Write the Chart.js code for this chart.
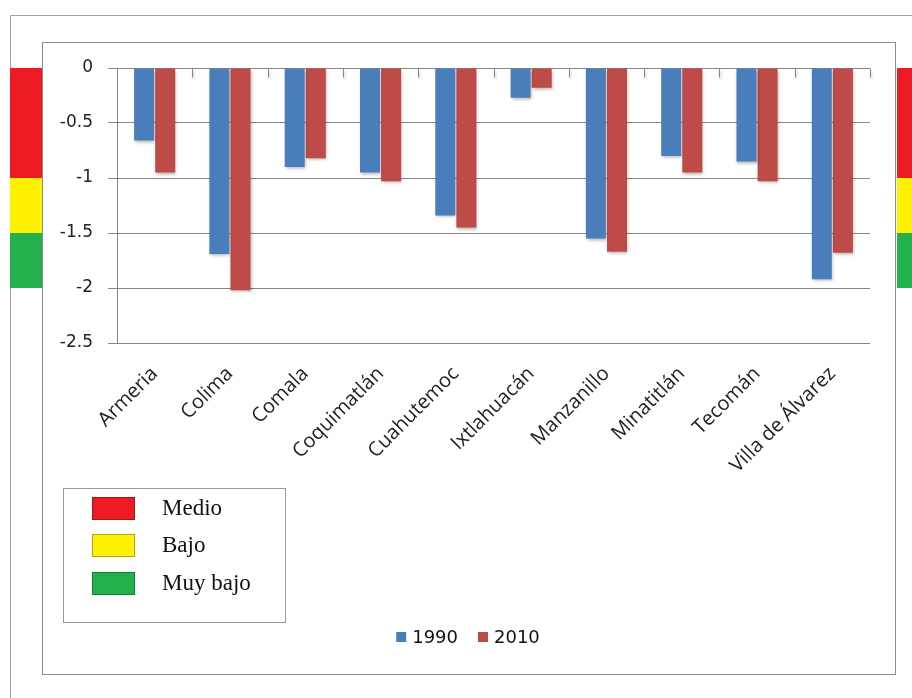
<!DOCTYPE html>
<html>
<head>
<meta charset="utf-8">
<script src="https://cdn.jsdelivr.net/npm/chart.js@4.4.1/dist/chart.umd.min.js"></script>
<style>
  html, body { margin: 0; padding: 0; background: #fff; }
  #wrap { width: 912px; height: 698px; position: relative; }
</style>
</head>
<body>
<div id="wrap"><canvas id="c" width="912" height="698"></canvas></div>
<script>
// Municipios del estado de Colima
const municipios = ['Armeria', 'Colima', 'Comala', 'Coquimatlán', 'Cuahutemoc',
  'Ixtlahuacán', 'Manzanillo', 'Minatitlán', 'Tecomán', 'Villa de Álvarez'];
const serie1990 = [-0.66, -1.69, -0.90, -0.95, -1.34, -0.27, -1.55, -0.80, -0.85, -1.92];
const serie2010 = [-0.95, -2.02, -0.82, -1.03, -1.45, -0.18, -1.67, -0.95, -1.03, -1.68];
const etiquetasSerie = ['1990', '2010'];
const yTicks = [0, -0.5, -1, -1.5, -2, -2.5];

// Niveles de referencia (franjas laterales)
const nivelNombres = ['Medio', 'Bajo', 'Muy bajo'];
const nivelDesde = [0, -1, -1.5];
const nivelHasta = [-1, -1.5, -2];
const nivelColores = ['#ed1c24', '#fff200', '#22b14c'];

const colorAzul = '#4a7ebb';
const colorRojo = '#be4b48';

// Marcos, franjas de nivel y cuadro de niveles
const decorPlugin = {
  id: 'decor',
  beforeDraw(chart) {
    const ctx = chart.ctx;
    ctx.save();
    ctx.fillStyle = '#fff';
    ctx.fillRect(0, 0, chart.width, chart.height);
    ctx.strokeStyle = '#a0a0a0';
    ctx.lineWidth = 1;
    ctx.beginPath();
    ctx.moveTo(10.5, 698); ctx.lineTo(10.5, 15.5); ctx.lineTo(912, 15.5);
    ctx.stroke();
    ctx.strokeStyle = '#8c8c8c';
    ctx.strokeRect(42.5, 42.5, 853, 632);
    ctx.restore();
  },
  afterDraw(chart) {
    const ctx = chart.ctx;
    const y = chart.scales.y;
    ctx.save();
    for (let i = 0; i < nivelNombres.length; i++) {
      const y0 = y.getPixelForValue(nivelDesde[i]);
      const y1 = y.getPixelForValue(nivelHasta[i]);
      ctx.fillStyle = nivelColores[i];
      ctx.fillRect(10, y0, 32, y1 - y0);
      ctx.fillRect(897, y0, 15, y1 - y0);
    }
    // cuadro de niveles
    ctx.fillStyle = '#fff';
    ctx.fillRect(63.5, 488.5, 222, 134);
    ctx.strokeStyle = '#999';
    ctx.lineWidth = 1;
    ctx.strokeRect(63.5, 488.5, 222, 134);
    const sy = [497, 534, 572];
    ctx.font = '23px "Liberation Serif", "DejaVu Serif", serif';
    ctx.textBaseline = 'middle';
    ctx.textAlign = 'left';
    for (let i = 0; i < nivelNombres.length; i++) {
      ctx.fillStyle = nivelColores[i];
      ctx.fillRect(92, sy[i], 43, 23);
      ctx.strokeStyle = 'rgba(0,0,0,0.3)';
      ctx.strokeRect(92.5, sy[i] + 0.5, 42, 22);
      ctx.fillStyle = '#111';
      ctx.fillText(nivelNombres[i], 162, sy[i] + 12);
    }
    // leyenda de series
    ctx.font = '18px "DejaVu Sans", sans-serif';
    const ds = chart.data.datasets;
    const box = 10, gapTxt = 6, gapItem = 20;
    const widths = ds.map(d => box + gapTxt + ctx.measureText(d.label).width);
    const total = widths.reduce((a, b) => a + b, 0) + gapItem * (ds.length - 1);
    let x = 468 - total / 2;
    const ly = 637;
    ds.forEach((d, i) => {
      ctx.fillStyle = d.backgroundColor;
      ctx.fillRect(x, ly - 5, box, box);
      ctx.fillStyle = '#111';
      ctx.fillText(d.label, x + box + gapTxt, ly + 1);
      x += widths[i] + gapItem;
    });
    ctx.restore();
  }
};

// Marcas de categoría sobre la línea del cero
const categoriaTicks = {
  id: 'categoriaTicks',
  afterDatasetsDraw(chart) {
    const ctx = chart.ctx;
    const x = chart.scales.x, y = chart.scales.y;
    const y0 = Math.round(y.getPixelForValue(0)) + 0.5;
    ctx.save();
    ctx.strokeStyle = '#868686';
    ctx.lineWidth = 1;
    ctx.beginPath();
    for (let i = 1; i <= municipios.length; i++) {
      const px = Math.round(x.getPixelForValue(i - 0.5)) + 0.5;
      ctx.moveTo(px, y0);
      ctx.lineTo(px, y0 + 9);
    }
    ctx.stroke();
    ctx.restore();
  }
};

// Sombra suave de las barras
const sombraBarras = {
  id: 'sombraBarras',
  beforeDatasetsDraw(chart) {
    const ctx = chart.ctx;
    ctx.save();
    ctx.shadowColor = 'rgba(0,0,0,0.28)';
    ctx.shadowOffsetX = 1;
    ctx.shadowOffsetY = 2;
    ctx.shadowBlur = 3;
  },
  afterDatasetsDraw(chart) {
    chart.ctx.restore();
  }
};

new Chart(document.getElementById('c'), {
  type: 'bar',
  data: {
    labels: municipios,
    datasets: [
      { label: etiquetasSerie[0], data: serie1990, backgroundColor: colorAzul },
      { label: etiquetasSerie[1], data: serie2010, backgroundColor: colorRojo }
    ]
  },
  options: {
    responsive: false,
    animation: false,
    devicePixelRatio: 1,
    layout: { padding: { left: 42, top: 68, right: 42, bottom: 195 } },
    datasets: { bar: { categoryPercentage: 0.56, barPercentage: 0.95 } },
    plugins: { legend: { display: false }, tooltip: { enabled: false } },
    scales: {
      x: {
        grid: { display: false, drawTicks: false },
        border: { display: false },
        ticks: {
          minRotation: 45, maxRotation: 45, autoSkip: false, padding: 19,
          color: '#222',
          font: { family: '"Open Sans", sans-serif', size: 20 }
        },
        afterFit(s) { s.height = 160; }
      },
      y: {
        min: -2.5, max: 0,
        afterBuildTicks(s) { s.ticks = yTicks.map(v => ({ value: v })); },
        grid: { color: '#868686', tickLength: 9, lineWidth: 1 },
        border: { display: true, color: '#868686' },
        ticks: {
          padding: 15, color: '#222',
          font: { family: '"DejaVu Sans", sans-serif', size: 17 },
          callback: v => String(v)
        },
        afterFit(s) { s.width = 75; }
      }
    }
  },
  plugins: [decorPlugin, categoriaTicks, sombraBarras]
});
</script>
</body>
</html>
